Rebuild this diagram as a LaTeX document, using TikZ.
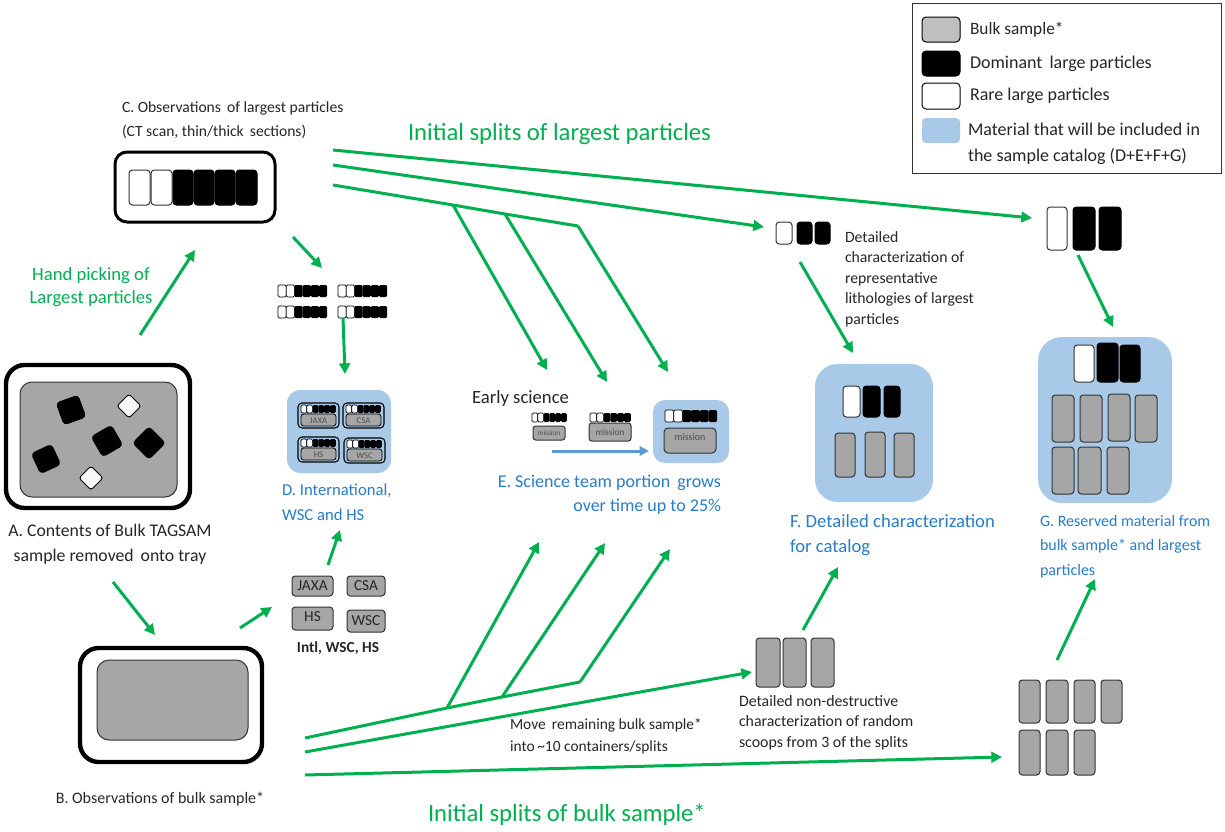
\documentclass[tikz,border=0pt]{standalone}
\usepackage{fontspec}
\setmainfont{Carlito}
\usetikzlibrary{arrows.meta}
\definecolor{grn}{RGB}{0,176,80}
\definecolor{txtblue}{RGB}{40,125,200}
\definecolor{lblue}{RGB}{168,202,232}
\definecolor{pgray}{RGB}{166,166,166}
\definecolor{lgray}{RGB}{191,191,191}
\definecolor{arrblue}{RGB}{91,155,213}
\definecolor{txt}{RGB}{38,38,38}
\newcommand{\fs}[2]{\fontsize{#1}{#2}\selectfont}
% strip of 2 white + 4 black cells: x, y (top-left), cell width, height
\newcommand{\mystrip}[4]{%
  \foreach \i in {0,1}{\draw[line width=0.5pt,fill=white,rounded corners=1pt] ({#1+\i*#3},#2) rectangle ++(#3,#4);}
  \foreach \i in {2,...,5}{\fill[rounded corners=1pt] ({#1+\i*#3},#2) rectangle ++(#3,#4);}
}
% mini container: x, y, label, name
\newcommand{\minic}[4]{%
  \draw[line width=0.8pt,rounded corners=3pt] (#1,#2) rectangle ++(41,25);
  \mystrip{#1+3}{#2+2}{5.8}{8}
  \draw[fill=pgray,line width=0.6pt,rounded corners=2pt] ({#1+3},{#2+11}) rectangle ++(35,12);
  \node[font=\fs{6.5}{7}, text=black!70] (#4) at ({#1+20.5},{#2+17.5}) {#3};
}
\begin{document}
\begin{tikzpicture}[x=0.75pt,y=-0.75pt,
  every node/.style={inner sep=0pt, outer sep=0pt, text=txt},
  garrow/.style={draw=grn, line width=2.25pt, -{Triangle[length=8pt,width=8pt]}},
  gline/.style={draw=grn, line width=2.25pt, line join=round},
  wpart/.style={draw=black!80, line width=0.75pt, fill=white, rounded corners=2.5pt},
  bpart/.style={draw=black, line width=0.75pt, fill=black, rounded corners=2.5pt},
  gpart/.style={draw=black!80, line width=0.75pt, fill=pgray, rounded corners=2.5pt},
  tray/.style={draw=black, line width=3.3pt, rounded corners=14pt, fill=white},
  trayin/.style={draw=black!80, line width=0.75pt, fill=pgray, rounded corners=9pt},
  greentext/.style={text=grn},
  bluetext/.style={text=txtblue},
]
\useasboundingbox[fill=white] (0,0) rectangle (1225,832);

% ---------------- Legend ----------------
\draw[black!80, line width=0.75pt] (912,3) rectangle (1221,173);
\draw[line width=0.75pt, fill=lgray, rounded corners=3pt] (922,17) rectangle (960,42);
\draw[line width=0.75pt, fill=black, rounded corners=3pt] (922,51) rectangle (960,76);
\draw[line width=0.75pt, fill=white, rounded corners=3pt] (922,83) rectangle (960,109);
\fill[lblue, rounded corners=3pt] (922,118) rectangle (960,143);
\node[anchor=west, font=\fs{13}{15}] (leg1) at (970,30) {Bulk sample*};
\node[anchor=west, font=\fs{13.5}{15}] (leg2) at (970,64) {Dominant\, large particles};
\node[anchor=west, font=\fs{13.5}{15}] (leg3) at (970,96) {Rare large particles};
\node[anchor=west, align=left, font=\fs{13.5}{19.5}] (leg4) at (968,144) {Material that will be included in\\the sample catalog (D+E+F+G)};

% ---------------- C ----------------
\node[anchor=west, align=left, font=\fs{11.7}{18}] (Clab) at (122,120) {C. Observations\, of largest particles\\(CT scan, thin/thick\, sections)};
\draw[line width=2.25pt, rounded corners=9pt] (115,152) rectangle (275,222);
\draw[wpart] (129,170) rectangle (150,205);
\draw[wpart] (151,170) rectangle (172,205);
\draw[bpart] (173,170) rectangle (193,205);
\draw[bpart] (194,170) rectangle (214,205);
\draw[bpart] (215,170) rectangle (235,205);
\draw[bpart] (236,170) rectangle (257,205);
\node[anchor=west, greentext, font=\fs{18.5}{20}] (Ctitle) at (408,134) {Initial splits of largest particles};

% ---------------- A ----------------
\draw[tray] (6,365) rectangle (190,508);
\draw[trayin] (20,382) rectangle (177,497);
\begin{scope}[shift={(71,410)},rotate=20]\fill[rounded corners=3pt] (-12,-12) rectangle (12,12);\end{scope}
\begin{scope}[shift={(107,441)},rotate=30]\fill[rounded corners=3pt] (-12,-12) rectangle (12,12);\end{scope}
\begin{scope}[shift={(149,443)},rotate=45]\fill[rounded corners=3pt] (-12,-12) rectangle (12,12);\end{scope}
\begin{scope}[shift={(46,459)},rotate=25]\fill[rounded corners=3pt] (-11.5,-11.5) rectangle (11.5,11.5);\end{scope}
\begin{scope}[shift={(129,406)},rotate=45]\draw[line width=0.75pt, fill=white!95!gray, rounded corners=2pt] (-8.5,-8.5) rectangle (8.5,8.5);\end{scope}
\begin{scope}[shift={(91,478)},rotate=45]\draw[line width=0.75pt, fill=white!95!gray, rounded corners=2pt] (-8.5,-8.5) rectangle (8.5,8.5);\end{scope}
\node[align=center, font=\fs{13.3}{18.75}] (Alab) at (110,544.5) {A. Contents of Bulk TAGSAM\\sample removed\, onto tray};
\node[align=center, greentext, font=\fs{14}{17.25}] (hand) at (91,287) {Hand picking of\\Largest particles};

% ---------------- B ----------------
\draw[tray] (80,648) rectangle (262,762);
\draw[trayin] (97,660) rectangle (248,740);
\node[font=\fs{12}{14}] (Blab) at (160,799) {B. Observations of bulk sample*};
\node[anchor=west, greentext, font=\fs{18.5}{20}] (Btitle) at (428,815) {Initial splits of bulk sample*};

% ---------------- small strips + D ----------------
\mystrip{278}{285}{8.2}{12}
\mystrip{338}{285}{8.2}{12}
\mystrip{278}{306}{8.2}{12}
\mystrip{338}{306}{8.2}{12}
\fill[lblue, rounded corners=10pt] (287,390) rectangle (391,473);
\minic{298}{403}{JAXA}{dj}
\minic{343}{403}{CSA}{dc}
\minic{298}{437}{HS}{dh}
\minic{344}{438}{WSC}{dw}
\node[anchor=west, align=left, bluetext, font=\fs{12.5}{18.5}] (Dlab) at (282,502.5) {D. International,\\WSC and HS};

% Intl boxes
\draw[gpart] (292,576) rectangle (333,596);
\node[font=\fs{11.5}{12}] (ij) at (312.5,586) {JAXA};
\draw[gpart] (347,576) rectangle (385,596);
\node[font=\fs{11.5}{12}] (ic) at (366,586) {CSA};
\draw[gpart] (292,607) rectangle (333,630);
\node[font=\fs{11.5}{12}] (ih) at (312.5,617) {HS};
\draw[gpart] (347,610) rectangle (385,632);
\node[font=\fs{11.5}{12}] (iw) at (366,621) {WSC};
\node[font=\bfseries\fs{11.5}{12}] (ilab) at (338,648) {Intl, WSC, HS};

% ---------------- E ----------------
\node[anchor=west, font=\fs{14}{16}] (early) at (472,399) {Early science};
\mystrip{532}{413}{5.8}{9}
\draw[gpart, rounded corners=2pt] (533,426) rectangle (565,440);
\node[font=\fs{5.5}{6}, text=black!70] (m1) at (549,433) {mission};
\mystrip{590}{413}{6.8}{9}
\draw[gpart, rounded corners=2pt] (589,423) rectangle (631,441);
\node[font=\fs{7}{8}, text=black!70] (m2) at (610,432.5) {mission};
\fill[lblue, rounded corners=9pt] (653,400) rectangle (729,463);
\mystrip{665}{410}{8.7}{12}
\draw[gpart, rounded corners=3pt] (664,428) rectangle (716,453);
\node[font=\fs{7.5}{8}, text=black!70] (m3) at (690,437) {mission};
\coordinate (bls) at (552,451);
\coordinate (ble) at (649,451);
\draw[draw=arrblue, line width=2.25pt, -{Triangle[length=7pt,width=7pt]}] (bls) -- (ble);
\node[anchor=east, align=right, bluetext, font=\fs{13.5}{18}] (Elab) at (721,495) {E. Science team portion\, grows\\over time up to 25\%};

% ---------------- F ----------------
\draw[wpart] (776,222) rectangle (792,244);
\draw[bpart] (797,222) rectangle (812,244);
\draw[bpart] (815,222) rectangle (830,244);
\node[anchor=west, align=left, font=\fs{11.8}{15.4}] (Fdet) at (845,279) {Detailed\\characterization of\\representative\\lithologies of largest\\particles};
\fill[lblue, rounded corners=17pt] (815,364) rectangle (933,502);
\draw[wpart] (843,386) rectangle (860,417);
\draw[bpart] (863,386) rectangle (880,417);
\draw[bpart] (884,386) rectangle (900,417);
\draw[gpart] (835,433) rectangle (855,477);
\draw[gpart] (865,432) rectangle (885,477);
\draw[gpart] (894,433) rectangle (914,477);
\node[anchor=west, align=left, bluetext, font=\fs{14}{18.75}] (Flab) at (790,535.5) {F. Detailed characterization\\for catalog};
\draw[gpart] (756,638) rectangle (780,687);
\draw[gpart] (783,638) rectangle (806,687);
\draw[gpart] (811,638) rectangle (834,687);
\node[anchor=west, align=left, font=\fs{11.9}{15.4}] (Fbulk) at (739,722.5) {Detailed non-destructive\\characterization of random\\scoops from 3 of the splits};
\node[anchor=west, align=left, font=\fs{11.6}{16.5}] (move) at (510,736) {Move\, remaining bulk sample*\\into\,\char`\~10 containers/splits};

% ---------------- G ----------------
\draw[wpart] (1047,207) rectangle (1067,250);
\draw[bpart] (1073,207) rectangle (1095,250);
\draw[bpart] (1099,207) rectangle (1121,250);
\fill[lblue, rounded corners=18pt] (1038,337) rectangle (1172,503);
\draw[wpart] (1074,345) rectangle (1094,382);
\draw[bpart] (1097,343) rectangle (1118,382);
\draw[bpart] (1120,345) rectangle (1140,382);
\draw[gpart] (1052,395) rectangle (1074,442);
\draw[gpart] (1080,395) rectangle (1102,442);
\draw[gpart] (1108,394) rectangle (1130,441);
\draw[gpart] (1135,395) rectangle (1157,442);
\draw[gpart] (1052,447) rectangle (1074,494);
\draw[gpart] (1078,447) rectangle (1101,494);
\draw[gpart] (1107,447) rectangle (1129,494);
\node[anchor=west, align=left, bluetext, font=\fs{12}{18.4}] (Glab) at (1040,546.5) {G. Reserved material from\\bulk sample* and largest\\particles};
\draw[gpart] (1019,680) rectangle (1040,723);
\draw[gpart] (1046,680) rectangle (1068,723);
\draw[gpart] (1074,680) rectangle (1095,723);
\draw[gpart] (1101,680) rectangle (1122,723);
\draw[gpart] (1019,730) rectangle (1040,775);
\draw[gpart] (1046,730) rectangle (1068,775);
\draw[gpart] (1074,730) rectangle (1095,775);

% ---------------- connectors ----------------
\coordinate (hp1) at (140,335); \coordinate (hp2) at (195,250);
\coordinate (ab1) at (113,582); \coordinate (ab2) at (155,635);
\coordinate (bi1) at (240,628); \coordinate (bi2) at (272,607);
\coordinate (cs1) at (293,237); \coordinate (cs2) at (322,268);
\coordinate (sd1) at (343,318); \coordinate (sd2) at (345,374);
\coordinate (id1) at (328,565); \coordinate (id2) at (340,530);
\coordinate (t1a) at (333,150); \coordinate (t1b) at (1032,218);
\coordinate (t2a) at (333,165); \coordinate (t2b) at (764,227);
\coordinate (t3a) at (333,185); \coordinate (t3b) at (453,205); \coordinate (t3c) at (505,214); \coordinate (t3d) at (578,226);
\coordinate (e1) at (547,370); \coordinate (e2) at (607,382); \coordinate (e3) at (668,372);
\coordinate (b1a) at (305,738); \coordinate (b1b) at (447,708); \coordinate (b1c) at (502,697); \coordinate (b1d) at (580,682);
\coordinate (u1) at (539,542); \coordinate (u2) at (605,543); \coordinate (u3) at (670,549);
\coordinate (b2a) at (305,752); \coordinate (b2b) at (752,672);
\coordinate (b3a) at (305,775); \coordinate (b3b) at (1002,757);
\coordinate (fp1) at (800,262); \coordinate (fp2) at (853,353);
\coordinate (gp1) at (1078,255); \coordinate (gp2) at (1113,327);
\coordinate (fb1) at (803,630); \coordinate (fb2) at (838,567);
\coordinate (gb1) at (1057,660); \coordinate (gb2) at (1095,579);

\draw[garrow] (hp1) -- (hp2);
\draw[garrow] (ab1) -- (ab2);
\draw[garrow] (bi1) -- (bi2);
\draw[garrow] (cs1) -- (cs2);
\draw[garrow] (sd1) -- (sd2);
\draw[garrow] (id1) -- (id2);
\draw[garrow] (t1a) -- (t1b);
\draw[garrow] (t2a) -- (t2b);
\draw[gline] (t3a) -- (t3b) -- (t3c) -- (t3d);
\draw[garrow] (t3b) -- (e1);
\draw[garrow] (t3c) -- (e2);
\draw[garrow] (t3d) -- (e3);
\draw[gline] (b1a) -- (b1b) -- (b1c) -- (b1d);
\draw[garrow] (b1b) -- (u1);
\draw[garrow] (b1c) -- (u2);
\draw[garrow] (b1d) -- (u3);
\draw[garrow] (b2a) -- (b2b);
\draw[garrow] (b3a) -- (b3b);
\draw[garrow] (fp1) -- (fp2);
\draw[garrow] (gp1) -- (gp2);
\draw[garrow] (fb1) -- (fb2);
\draw[garrow] (gb1) -- (gb2);
\end{tikzpicture}
\end{document}
